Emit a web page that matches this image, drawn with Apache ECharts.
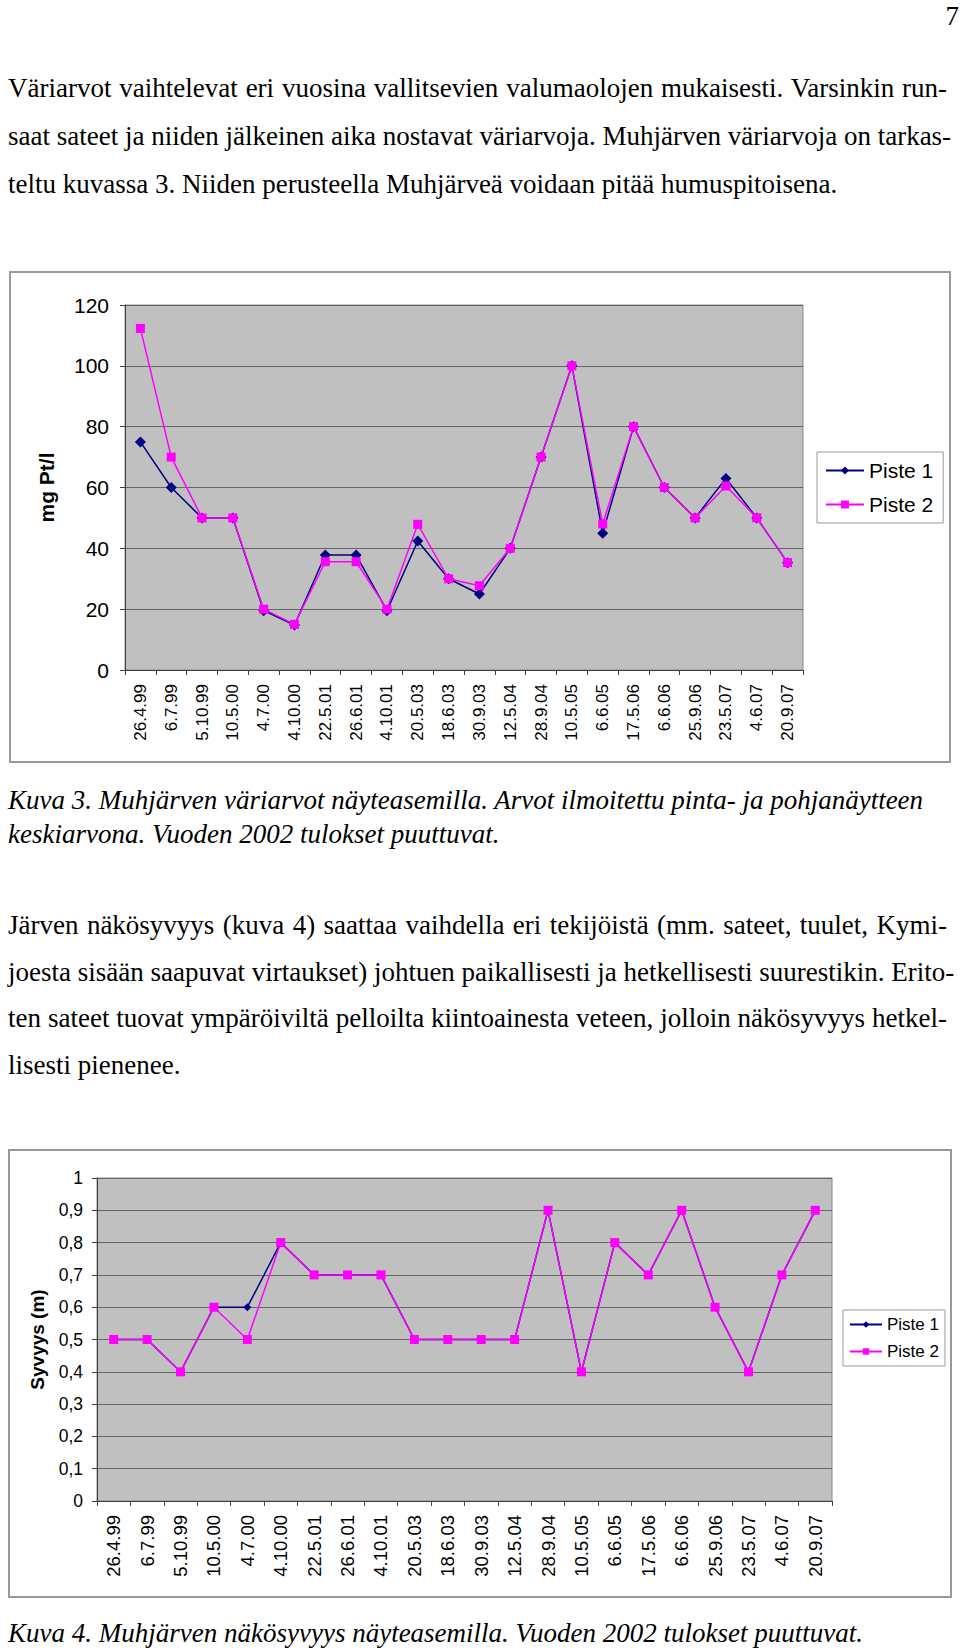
<!DOCTYPE html>
<html>
<head>
<meta charset="utf-8">
<script src="https://cdn.jsdelivr.net/npm/echarts@6/dist/echarts.min.js"></script>
<style>
  html, body { margin: 0; padding: 0; background: #fff; }
  body { width: 960px; height: 1651px; position: relative; overflow: hidden; }
  .t { position: absolute; font-family: "Liberation Serif", "Times New Roman", serif; font-size: 27px; line-height: 27px; color: #000; white-space: nowrap; }
  .j { width: 939px; text-align: justify; text-align-last: justify; }
  .i { font-style: italic; }
  .frame { position: absolute; border: 2px solid #999; box-sizing: border-box; }
  .chart { position: absolute; }
</style>
</head>
<body>
<div class="t" style="left:929px; top:3px; width:30px; text-align:right;">7</div>

<div class="t j" style="left:8px; top:75px;">Väriarvot vaihtelevat eri vuosina vallitsevien valumaolojen mukaisesti. Varsinkin run-</div>
<div class="t j" style="left:8px; top:123px;">saat sateet ja niiden jälkeinen aika nostavat väriarvoja. Muhjärven väriarvoja on tarkas-</div>
<div class="t" style="left:8px; top:171px;">teltu kuvassa 3. Niiden perusteella Muhjärveä voidaan pitää humuspitoisena.</div>

<div class="frame" style="left:9px; top:271px; width:942px; height:492px;"></div>
<div id="c1" class="chart" style="left:10px; top:272px; width:940px; height:490px;"></div>

<div class="t i" style="left:8px; top:787px;">Kuva 3. Muhjärven väriarvot näyteasemilla. Arvot ilmoitettu pinta- ja pohjanäytteen</div>
<div class="t i" style="left:8px; top:821px;">keskiarvona. Vuoden 2002 tulokset puuttuvat.</div>

<div class="t j" style="left:8px; top:912px;">Järven näkösyvyys (kuva 4) saattaa vaihdella eri tekijöistä (mm. sateet, tuulet, Kymi-</div>
<div class="t j" style="left:8px; top:959px;">joesta sisään saapuvat virtaukset) johtuen paikallisesti ja hetkellisesti suurestikin. Erito-</div>
<div class="t j" style="left:8px; top:1005px;">ten sateet tuovat ympäröiviltä pelloilta kiintoainesta veteen, jolloin näkösyvyys hetkel-</div>
<div class="t" style="left:8px; top:1052px;">lisesti pienenee.</div>

<div class="frame" style="left:8px; top:1149px; width:944px; height:449px;"></div>
<div id="c2" class="chart" style="left:9px; top:1150px; width:942px; height:447px;"></div>

<div class="t i" style="left:8px; top:1620px;">Kuva 4. Muhjärven näkösyvyys näyteasemilla. Vuoden 2002 tulokset puuttuvat.</div>

<script>
// ---- Data ----
const categories = ['26.4.99','6.7.99','5.10.99','10.5.00','4.7.00','4.10.00','22.5.01','26.6.01','4.10.01','20.5.03','18.6.03','30.9.03','12.5.04','28.9.04','10.5.05','6.6.05','17.5.06','6.6.06','25.9.06','23.5.07','4.6.07','20.9.07'];
const colourPiste1 = [75, 60, 50, 50, 19.5, 14.8, 37.8, 37.8, 19.5, 42.4, 30, 25, 40, 70, 100, 45, 80, 60, 50, 63, 50, 35.3];
const colourPiste2 = [112.3, 70, 50, 50, 20, 15, 35.6, 35.6, 20, 47.9, 30, 27.7, 40, 70, 100, 48, 80, 60, 50, 60.5, 50, 35.3];
const depthPiste1 = [0.5, 0.5, 0.4, 0.6, 0.6, 0.8, 0.7, 0.7, 0.7, 0.5, 0.5, 0.5, 0.5, 0.9, 0.4, 0.8, 0.7, 0.9, 0.6, 0.4, 0.7, 0.9];
const depthPiste2 = [0.5, 0.5, 0.4, 0.6, 0.5, 0.8, 0.7, 0.7, 0.7, 0.5, 0.5, 0.5, 0.5, 0.9, 0.4, 0.8, 0.7, 0.9, 0.6, 0.4, 0.7, 0.9];
const seriesNames = ['Piste 1', 'Piste 2'];
const chart1YTitle = 'mg Pt/l';
const chart2YTitle = 'Syvyys (m)';

const FONT = '"Liberation Sans", Arial, sans-serif';
const NAVY = '#000080';
const MAGENTA = '#FF00FF';

function makeOption(cfg) {
  return {
    animation: false,
    textStyle: { fontFamily: FONT },
    grid: {
      left: cfg.grid.left, top: cfg.grid.top, width: cfg.grid.width, height: cfg.grid.height,
      show: true, backgroundColor: '#C0C0C0', borderColor: '#888', borderWidth: 1
    },
    legend: {
      orient: 'vertical', left: cfg.legend.left, top: cfg.legend.top,
      padding: cfg.legend.padding, itemGap: cfg.legend.itemGap,
      itemWidth: cfg.legend.itemWidth, itemHeight: cfg.legend.itemHeight,
      backgroundColor: '#fff', borderColor: '#999', borderWidth: 1, borderRadius: 0,
      textStyle: { fontFamily: FONT, fontSize: cfg.legend.fontSize, color: '#000' },
      data: seriesNames
    },
    xAxis: {
      type: 'category', data: categories, boundaryGap: true,
      axisLine: { lineStyle: { color: '#404040', width: 1 } },
      axisTick: { show: true, length: 5, interval: 0, lineStyle: { color: '#404040' } },
      axisLabel: { rotate: 90, interval: 0, margin: cfg.xLabelMargin, fontSize: cfg.xFont, color: '#000', fontFamily: FONT },
      splitLine: { show: false }
    },
    yAxis: {
      type: 'value', min: cfg.y.min, max: cfg.y.max, interval: cfg.y.interval,
      name: cfg.y.title, nameLocation: 'middle', nameRotate: 90, nameGap: cfg.y.nameGap,
      nameTextStyle: { fontFamily: FONT, fontSize: cfg.y.nameFont, fontWeight: 'bold', color: '#000' },
      axisLine: { show: true, lineStyle: { color: '#404040', width: 1 } },
      axisTick: { show: true, length: 5, lineStyle: { color: '#404040' } },
      axisLabel: { fontSize: cfg.yFont, color: '#000', margin: cfg.yLabelMargin, fontFamily: FONT, formatter: cfg.y.formatter },
      splitLine: { show: true, lineStyle: { color: '#666', width: 1 } }
    },
    series: [
      {
        name: seriesNames[0], type: 'line', data: cfg.d1,
        symbol: 'diamond', symbolSize: cfg.sym1,
        lineStyle: { color: NAVY, width: 1.5 }, itemStyle: { color: NAVY },
        z: 2
      },
      {
        name: seriesNames[1], type: 'line', data: cfg.d2,
        symbol: 'rect', symbolSize: cfg.sym2,
        lineStyle: { color: MAGENTA, width: 1.5 }, itemStyle: { color: MAGENTA },
        z: 3
      }
    ]
  };
}

const c1 = echarts.init(document.getElementById('c1'), null, { renderer: 'svg' });
c1.setOption(makeOption({
  grid: { left: 115, top: 33, width: 678, height: 365 },
  legend: { left: 807, top: 180, padding: [8, 10, 8, 8], itemGap: 13, itemWidth: 38, itemHeight: 10, fontSize: 21 },
  xLabelMargin: 14, xFont: 17, yFont: 21, yLabelMargin: 16,
  y: { min: 0, max: 120, interval: 20, title: chart1YTitle, nameGap: 68, nameFont: 21 },
  d1: colourPiste1, d2: colourPiste2, sym1: 11, sym2: 9
}));

const c2 = echarts.init(document.getElementById('c2'), null, { renderer: 'svg' });
c2.setOption(makeOption({
  grid: { left: 88, top: 28, width: 735, height: 323 },
  legend: { left: 834, top: 160, padding: [6, 6, 6, 6], itemGap: 10, itemWidth: 32, itemHeight: 8, fontSize: 17 },
  xLabelMargin: 14, xFont: 18.5, yFont: 17.5, yLabelMargin: 14,
  y: { min: 0, max: 1, interval: 0.1, title: chart2YTitle, nameGap: 50, nameFont: 19,
       formatter: function (v) { if (v === 0) return '0'; if (Math.abs(v - 1) < 1e-9) return '1'; return v.toFixed(1).replace('.', ','); } },
  d1: depthPiste1, d2: depthPiste2, sym1: 8, sym2: 9
}));
</script>
</body>
</html>
